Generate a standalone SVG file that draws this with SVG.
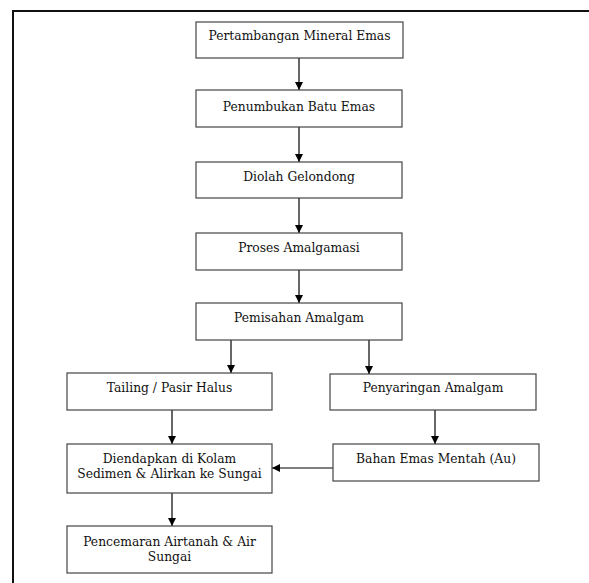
<svg xmlns="http://www.w3.org/2000/svg" width="589" height="583" viewBox="0 0 589 583">
<style>
.box{fill:#fff;stroke:#444;stroke-width:1.2}
.t{font-family:"DejaVu Serif","Liberation Serif",serif;font-size:12.3px;fill:#111;text-anchor:middle}
.c{stroke:#000;stroke-width:1.2;fill:none}
</style>
<defs>
<marker id="ah" markerWidth="8" markerHeight="8" refX="8" refY="4" orient="auto" markerUnits="userSpaceOnUse">
<path d="M0,0 L8,4 L0,8 Z" fill="#000"/>
</marker>
</defs>
<rect width="589" height="583" fill="#fff"/>
<path d="M13,583 V11 H589" fill="none" stroke="#111" stroke-width="2"/>
<g id="connectors">
<line class="c" x1="299" y1="58" x2="299" y2="90" marker-end="url(#ah)"/>
<line class="c" x1="299" y1="127" x2="299" y2="162" marker-end="url(#ah)"/>
<line class="c" x1="299" y1="198" x2="299" y2="233" marker-end="url(#ah)"/>
<line class="c" x1="299" y1="270" x2="299" y2="303" marker-end="url(#ah)"/>
<line class="c" x1="231" y1="340" x2="231" y2="373" marker-end="url(#ah)"/>
<line class="c" x1="369" y1="340" x2="369" y2="374" marker-end="url(#ah)"/>
<line class="c" x1="172" y1="410" x2="172" y2="444" marker-end="url(#ah)"/>
<line class="c" x1="435" y1="410" x2="435" y2="444" marker-end="url(#ah)"/>
<line class="c" x1="172" y1="493" x2="172" y2="526" marker-end="url(#ah)"/>
<line class="c" x1="333" y1="468" x2="272" y2="468" marker-end="url(#ah)"/>
</g>
<g id="n1"><rect class="box" x="196" y="22" width="207" height="36"/><text class="t" x="299.5" y="40">Pertambangan Mineral Emas</text></g>
<g id="n2"><rect class="box" x="196" y="90" width="206" height="37"/><text class="t" x="299" y="111">Penumbukan Batu Emas</text></g>
<g id="n3"><rect class="box" x="196" y="162" width="206" height="36"/><text class="t" x="299" y="181">Diolah Gelondong</text></g>
<g id="n4"><rect class="box" x="196" y="233" width="206" height="37"/><text class="t" x="299" y="252">Proses Amalgamasi</text></g>
<g id="n5"><rect class="box" x="196" y="303" width="206" height="37"/><text class="t" x="299" y="322">Pemisahan Amalgam</text></g>
<g id="n6"><rect class="box" x="67" y="373" width="205" height="37"/><text class="t" x="169.5" y="392">Tailing / Pasir Halus</text></g>
<g id="n7"><rect class="box" x="330" y="374" width="206" height="36"/><text class="t" x="433" y="392">Penyaringan Amalgam</text></g>
<g id="n8"><rect class="box" x="67" y="444" width="205" height="49"/><text class="t" x="169.5" y="463">Diendapkan di Kolam</text><text class="t" x="169.5" y="478">Sedimen &amp; Alirkan ke Sungai</text></g>
<g id="n9"><rect class="box" x="333" y="444" width="206" height="37"/><text class="t" x="436" y="463">Bahan Emas Mentah (Au)</text></g>
<g id="n10"><rect class="box" x="67" y="526" width="205" height="47"/><text class="t" x="169.5" y="546">Pencemaran Airtanah &amp; Air</text><text class="t" x="169.5" y="561">Sungai</text></g>
</svg>
